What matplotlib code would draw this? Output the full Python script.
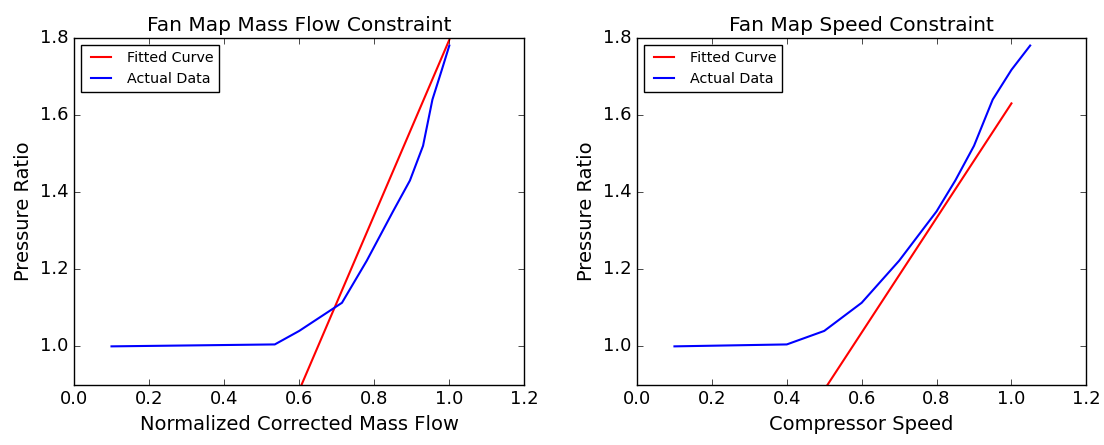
import matplotlib
matplotlib.use('Agg')
import matplotlib.pyplot as plt

# pressure ratio along the working line
pressure_ratio = [1.0, 1.005, 1.04, 1.113, 1.222, 1.35, 1.43, 1.52, 1.64, 1.717, 1.78]

# mass flow constraint
mass_flow = [0.1, 0.535, 0.6, 0.714, 0.78, 0.85, 0.895, 0.93, 0.955, 0.98, 1.0]
mass_fit_x = [0.1, 1.0]
mass_fit_y = [-0.25, 1.795]

# speed constraint
speed = [0.1, 0.4, 0.5, 0.6, 0.7, 0.8, 0.85, 0.9, 0.95, 1.0, 1.05]
speed_fit_x = [0.1, 1.0]
speed_fit_y = [0.293, 1.63]

plt.style.use('classic')
plt.rcParams['figure.facecolor'] = 'white'
plt.rcParams['savefig.facecolor'] = 'white'

fig = plt.figure(figsize=(11.04, 4.45), dpi=100)
ax1 = fig.add_axes([0.067, 0.135, 0.408, 0.78])
ax2 = fig.add_axes([0.577, 0.135, 0.407, 0.78])

panels = [
    (ax1, mass_fit_x, mass_fit_y, mass_flow, 'Fan Map Mass Flow Constraint', 'Normalized Corrected Mass Flow'),
    (ax2, speed_fit_x, speed_fit_y, speed, 'Fan Map Speed Constraint', 'Compressor Speed'),
]

for ax, fx, fy, x, title, xlabel in panels:
    ax.plot(fx, fy, color='red', lw=1.5, label='Fitted Curve')
    ax.plot(x, pressure_ratio, color='blue', lw=1.5, label='Actual Data')
    ax.set_xlim(0.0, 1.2)
    ax.set_ylim(0.9, 1.8)
    ax.set_xticks([0.0, 0.2, 0.4, 0.6, 0.8, 1.0, 1.2])
    ax.set_yticks([1.0, 1.2, 1.4, 1.6, 1.8])
    ax.tick_params(labelsize=13)
    ax.set_title(title, fontsize=14.5)
    ax.set_xlabel(xlabel, fontsize=14)
    ax.set_ylabel('Pressure Ratio', fontsize=14)
    ax.legend(loc='upper left', fontsize=10.3)

fig.savefig('out.png', dpi=100)
